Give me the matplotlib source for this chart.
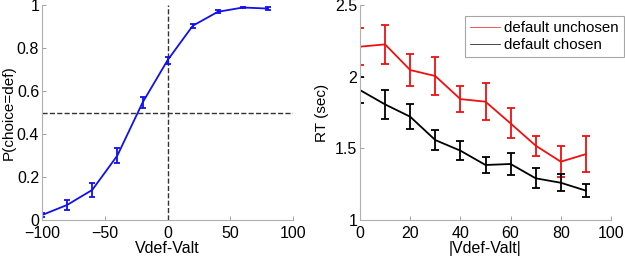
import numpy as np
import matplotlib
matplotlib.use("Agg")
import matplotlib.pyplot as plt
from matplotlib.lines import Line2D

# left panel: choice probability vs value difference
vdiff = [-100, -80, -60, -40, -20, 0, 20, 40, 60, 80]
p_def = [0.023, 0.07, 0.14, 0.30, 0.546, 0.744, 0.904, 0.969, 0.989, 0.984]
p_err = [0.008, 0.025, 0.033, 0.036, 0.026, 0.016, 0.010, 0.007, 0.004, 0.008]

# right panel: RT vs |value difference|
absdiff = [0, 10, 20, 30, 40, 50, 60, 70, 80, 90]
rt_unchosen = [2.21, 2.226, 2.047, 2.005, 1.844, 1.826, 1.674, 1.519, 1.407, 1.46]
rt_unchosen_err = [0.13, 0.135, 0.11, 0.13, 0.09, 0.13, 0.105, 0.07, 0.107, 0.128]
rt_chosen = [1.907, 1.807, 1.721, 1.558, 1.484, 1.384, 1.391, 1.291, 1.26, 1.205]
rt_chosen_err = [0.09, 0.1, 0.086, 0.068, 0.066, 0.058, 0.08, 0.07, 0.058, 0.043]

plt.rcParams['font.family'] = ['Liberation Sans', 'DejaVu Sans']
plt.rcParams['font.size'] = 11.5

fig = plt.figure(figsize=(6.25, 2.57), dpi=100)
ax1 = fig.add_axes([0.0672, 0.144, 0.402, 0.836])
ax2 = fig.add_axes([0.576, 0.144, 0.4016, 0.836])


def style(ax):
    for s in ['top', 'right']:
        ax.spines[s].set_visible(False)
    for s in ['left', 'bottom']:
        ax.spines[s].set_color('#b0b0b0')
        ax.spines[s].set_linewidth(0.8)
    ax.tick_params(direction='in', length=3, width=0.6, color='#909090', pad=2)
    ax.tick_params(axis='x', pad=4)
    for lab in ax.get_yticklabels():
        lab.set_verticalalignment('center_baseline')


# left
ax1.axhline(0.5, color='#333333', ls='--', lw=1)
ax1.axvline(0, color='#333333', ls='--', lw=1)
ax1.errorbar(vdiff, p_def, yerr=p_err, color='#1010f0', lw=1.3, capsize=2, elinewidth=1.3, capthick=1.3)
ax1.set_xlim(-100, 100)
ax1.set_ylim(0, 1)
ax1.set_xticks([-100, -50, 0, 50, 100])
ax1.set_yticks([0, 0.2, 0.4, 0.6, 0.8, 1])
ax1.set_yticklabels(['0', '0.2', '0.4', '0.6', '0.8', '1'])
ax1.set_xlabel('Vdef-Valt', labelpad=0)
ax1.set_ylabel('P(choice=def)', labelpad=1, fontsize=11)
style(ax1)

# right
ax2.errorbar(absdiff, rt_unchosen, yerr=rt_unchosen_err, color='#f01010', lw=1.3,
             capsize=3, elinewidth=1.3, capthick=1.3)
ax2.errorbar(absdiff, rt_chosen, yerr=rt_chosen_err, color='black', lw=1.3,
             capsize=3, elinewidth=1.3, capthick=1.3)
ax2.set_xlim(0, 100)
ax2.set_ylim(1, 2.5)
ax2.set_xticks([0, 20, 40, 60, 80, 100])
ax2.set_yticks([1, 1.5, 2, 2.5])
ax2.set_yticklabels(['1', '1.5', '2', '2.5'])
ax2.set_xlabel('|Vdef-Valt|', labelpad=0)
ax2.set_ylabel('RT (sec)', labelpad=4, fontsize=11)
style(ax2)

handles = [Line2D([], [], color='#f01010', lw=0.5), Line2D([], [], color='black', lw=0.5)]
leg = ax2.legend(handles, ['default unchosen', 'default chosen'], loc='upper right',
                 bbox_to_anchor=(1.052, 0.95), fancybox=False, frameon=True,
                 handlelength=2.0, handletextpad=0.25, borderpad=0.35, borderaxespad=0,
                 labelspacing=0.2, fontsize=10.8)
leg.get_frame().set_edgecolor('#909090')
leg.get_frame().set_linewidth(0.8)

fig.savefig('out.png', dpi=100)
